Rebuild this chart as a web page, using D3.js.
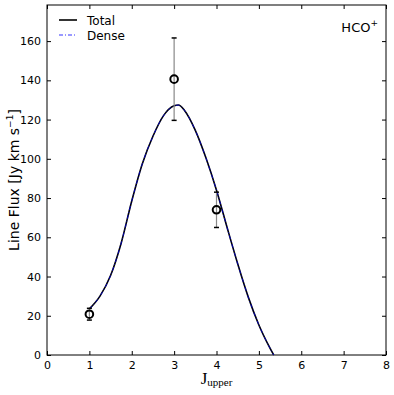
<!DOCTYPE html>
<html>
<head>
<meta charset="utf-8">
<script src="https://cdn.jsdelivr.net/npm/d3@7"></script>
<style>
  body { margin: 0; background: #fff; }
  text { font-family: "DejaVu Sans", sans-serif; }
</style>
</head>
<body>
<div id="chart"></div>
<script>
// Observed points (J_upper, flux, error)
const obsJ = [1, 3, 4];
const obsFlux = [20.8, 140.6, 74];
const obsErr = [3, 21, 9];

// Model curve (Total and Dense overlap)
const curveJ = [1.0, 1.25, 1.5, 1.75, 2.0, 2.25, 2.5, 2.75, 3.0, 3.1, 3.25, 3.5, 3.75, 4.0, 4.25, 4.5, 4.75, 5.0, 5.25, 5.35];
const totalFlux = [23.5, 30, 40.5, 57, 78.5, 97.5, 111.5, 122, 127, 127.4, 124.5, 114.5, 100.5, 84, 65, 46.5, 29.5, 15.3, 4, 0];
const denseFlux = totalFlux.slice();

const xTicks = [0, 1, 2, 3, 4, 5, 6, 7, 8];
const yTicks = [0, 20, 40, 60, 80, 100, 120, 140, 160];

const W = 394, H = 395;
const margin = { top: 5, right: 8, bottom: 40, left: 47 };
const width = W - margin.left - margin.right;
const height = H - margin.top - margin.bottom;

const svg = d3.select("#chart").append("svg")
    .attr("width", W)
    .attr("height", H);

const g = svg.append("g")
    .attr("transform", "translate(" + margin.left + "," + margin.top + ")");

const x = d3.scaleLinear().domain([0, 8]).range([0, width]);
const y = d3.scaleLinear().domain([0, 178.4]).range([height, 0]);

// axes with inward ticks on all four sides
g.append("g")
    .attr("transform", "translate(0," + height + ")")
    .call(d3.axisBottom(x).tickValues(xTicks).tickSizeInner(-4).tickSizeOuter(0).tickPadding(6))
    .call(a => a.select(".domain").remove())
    .selectAll("text").style("font-size", "11px").attr("fill", "#000");

g.append("g")
    .call(d3.axisTop(x).tickValues(xTicks).tickSizeInner(-4).tickSizeOuter(0).tickFormat(""))
    .call(a => a.select(".domain").remove());

g.append("g")
    .call(d3.axisLeft(y).tickValues(yTicks).tickSizeInner(-4).tickSizeOuter(0).tickPadding(6))
    .call(a => a.select(".domain").remove())
    .selectAll("text").style("font-size", "11px").attr("fill", "#000");

g.append("g")
    .attr("transform", "translate(" + width + ",0)")
    .call(d3.axisRight(y).tickValues(yTicks).tickSizeInner(-4).tickSizeOuter(0).tickFormat(""))
    .call(a => a.select(".domain").remove());

g.append("rect")
    .attr("width", width)
    .attr("height", height)
    .attr("fill", "none")
    .attr("stroke", "#000")
    .attr("stroke-width", 1);

// model lines
const line = d3.line().curve(d3.curveMonotoneX);

g.append("path")
    .attr("d", line(curveJ.map((j, i) => [x(j), y(totalFlux[i])])))
    .attr("fill", "none")
    .attr("stroke", "#000")
    .attr("stroke-width", 1.6);

g.append("path")
    .attr("d", line(curveJ.map((j, i) => [x(j), y(denseFlux[i])])))
    .attr("fill", "none")
    .attr("stroke", "#0000ff")
    .attr("stroke-width", 0.7)
    .attr("stroke-dasharray", "4,2,1,2");

// error bars
const pts = g.selectAll(".pt")
    .data(obsJ.map((j, i) => ({ j: j, f: obsFlux[i], e: obsErr[i] })))
    .enter().append("g");

pts.append("line")
    .attr("x1", d => x(d.j)).attr("x2", d => x(d.j))
    .attr("y1", d => y(d.f - d.e)).attr("y2", d => y(d.f + d.e))
    .attr("stroke", "#888").attr("stroke-width", 1.2);

pts.selectAll(".cap")
    .data(d => [d.f - d.e, d.f + d.e].map(v => ({ j: d.j, v: v })))
    .enter().append("line")
    .attr("x1", d => x(d.j) - 2.5).attr("x2", d => x(d.j) + 2.5)
    .attr("y1", d => y(d.v)).attr("y2", d => y(d.v))
    .attr("stroke", "#000").attr("stroke-width", 1.5);

pts.append("circle")
    .attr("cx", d => x(d.j)).attr("cy", d => y(d.f))
    .attr("r", 3.8)
    .attr("fill", "none")
    .attr("stroke", "#000")
    .attr("stroke-width", 2);

// legend
const legend = g.append("g").attr("transform", "translate(12,15)");
legend.append("line").attr("x1", 0).attr("x2", 18).attr("y1", 0).attr("y2", 0)
    .attr("stroke", "#000").attr("stroke-width", 1.6);
legend.append("text").attr("x", 28).attr("y", 4.5).style("font-size", "12px").text("Total");
legend.append("line").attr("x1", 0).attr("x2", 18).attr("y1", 15).attr("y2", 15)
    .attr("stroke", "#0000ff").attr("stroke-width", 0.8).attr("stroke-dasharray", "4,2,1,2");
legend.append("text").attr("x", 28).attr("y", 19.5).style("font-size", "12px").text("Dense");

// molecule label
const mol = g.append("text")
    .attr("x", width - 8).attr("y", 27)
    .attr("text-anchor", "end")
    .style("font-size", "13px");
mol.append("tspan").text("HCO");
mol.append("tspan").attr("dy", -6).style("font-size", "9px").text("+");

// axis labels
const yl = svg.append("text")
    .attr("transform", "translate(18.5," + (margin.top + height / 2) + ") rotate(-90)")
    .attr("text-anchor", "middle")
    .style("font-size", "14px");
yl.append("tspan").text("Line Flux [Jy km s");
yl.append("tspan").attr("dy", -6).style("font-size", "9px").text("\u22121");
yl.append("tspan").attr("dy", 6).text("]");

const xl = svg.append("text")
    .attr("x", margin.left + width / 2)
    .attr("y", 384)
    .attr("text-anchor", "middle")
    .style("font-family", "'Liberation Serif', serif")
    .style("font-size", "17px");
xl.append("tspan").text("J");
xl.append("tspan").attr("dy", 2).style("font-size", "11px").text("upper");
</script>
</body>
</html>
